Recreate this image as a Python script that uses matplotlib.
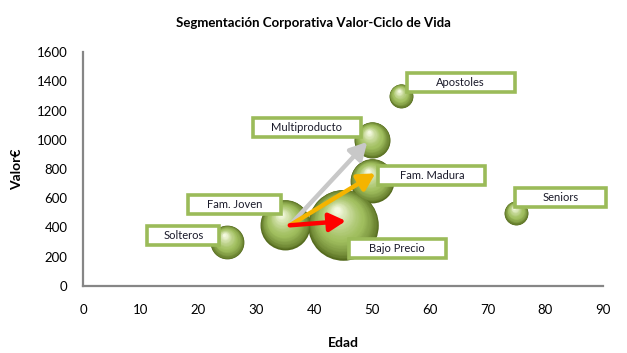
import numpy as np
import matplotlib
matplotlib.use("Agg")
import matplotlib.pyplot as plt
from matplotlib.patches import Rectangle
from matplotlib.transforms import IdentityTransform
from matplotlib.colors import to_rgb

# ---- data ----
segments = ["Solteros", "Fam. Joven", "Bajo Precio", "Fam. Madura", "Multiproducto", "Apostoles", "Seniors"]
edad = [25, 35, 45, 50, 50, 55, 75]
valor = [300, 420, 420, 720, 1000, 1300, 500]
tamano = [22, 48, 96, 37, 25, 11, 11]

arrow_start = [(35.8, 415), (35.8, 415), (35.8, 415)]
arrow_end = [(49.2, 985), (50.6, 770), (45.5, 445)]
arrow_colors = ["#C8C8C8", "#F5B400", "#FF0000"]

x_ticks = [0, 10, 20, 30, 40, 50, 60, 70, 80, 90]
y_ticks = [0, 200, 400, 600, 800, 1000, 1200, 1400, 1600]

# ---- style ----
label_offsets = [(-44, 7), (-51, 20), (54, -24), (60, 5), (-65, 12), (60, 13), (44, 15)]
label_widths = [72, 93, 97, 107, 108, 108, 91]
FONT = "Lato"

fig = plt.figure(figsize=(6.27, 3.53), dpi=100)
ax = fig.add_axes([83/627, 1-286/353, (603-83)/627, (286-52)/353])
ax.set_xlim(0, 90)
ax.set_ylim(0, 1600)
ax.set_xticks(x_ticks)
ax.set_yticks(y_ticks)
ax.set_xticklabels([str(v) for v in x_ticks], fontsize=9.5, family=FONT)
ax.set_yticklabels([str(v) for v in y_ticks], fontsize=9.5, family=FONT)
ax.tick_params(length=0)
ax.tick_params(axis="x", pad=13)
ax.tick_params(axis="y", pad=11)
for s in ["top", "right"]:
    ax.spines[s].set_visible(False)
for s in ["left", "bottom"]:
    ax.spines[s].set_color("#868686")
    ax.spines[s].set_linewidth(1.6)

ax.set_xlabel("Edad", fontsize=10, fontweight="bold", family=FONT, labelpad=15)
ax.set_ylabel("Valor€", fontsize=10, fontweight="bold", family=FONT, labelpad=10)
fig.text(313/627, 1-23/353, "Segmentación Corporativa Valor-Ciclo de Vida",
         ha="center", va="center", fontsize=9.5, fontweight="bold", family=FONT)

# ---- shaded bubbles ----
k = 26.9  # points^2 per size unit
dark = np.array(to_rgb("#556B1E"))
mid = np.array(to_rgb("#A2C060"))
light = np.array(to_rgb("#F4F9E0"))
N = 40
fig.canvas.draw()
order = np.argsort(tamano)[::-1]
for i in order:
    s0 = k * tamano[i]
    diam_pt = np.sqrt(s0)
    r_px = diam_pt / 0.72 / 2
    cx, cy = ax.transData.transform((edad[i], valor[i]))
    for j in range(N):
        t = j / (N - 1)
        f = 1 - 0.92 * t
        ox = -0.18 * r_px * t
        oy = 0.42 * r_px * t
        if t < 0.4:
            c = dark + (mid - dark) * (t / 0.4) ** 0.7
        else:
            c = mid + (light - mid) * ((t - 0.4) / 0.6) ** 1.3
        px, py = ax.transData.inverted().transform((cx + ox, cy + oy))
        ax.scatter([px], [py], s=(diam_pt * f) ** 2, color=c, lw=0, zorder=3 + j * 0.001)

# ---- arrows ----
for (x0, y0), (x1, y1), col in zip(arrow_start, arrow_end, arrow_colors):
    ax.annotate("", xy=(x1, y1), xytext=(x0, y0),
                arrowprops=dict(arrowstyle="-|>,head_length=1.0,head_width=0.55",
                                lw=3.2, color=col, shrinkA=0, shrinkB=0),
                zorder=6)

# ---- labels ----
for i, name in enumerate(segments):
    cx, cy = ax.transData.transform((edad[i], valor[i]))
    dx, dy = label_offsets[i]
    bx, by = cx + dx, cy + dy
    w, h = label_widths[i], 19
    fig.add_artist(Rectangle((bx - w/2, by - h/2), w, h, transform=IdentityTransform(),
                             facecolor="white", edgecolor="#9BBB59", lw=2.6, zorder=10))
    fig.text(bx/627, by/353, name, ha="center", va="center", fontsize=8,
             family=FONT, color="#1a1a2a", zorder=11)

fig.savefig("out.png", dpi=100)
